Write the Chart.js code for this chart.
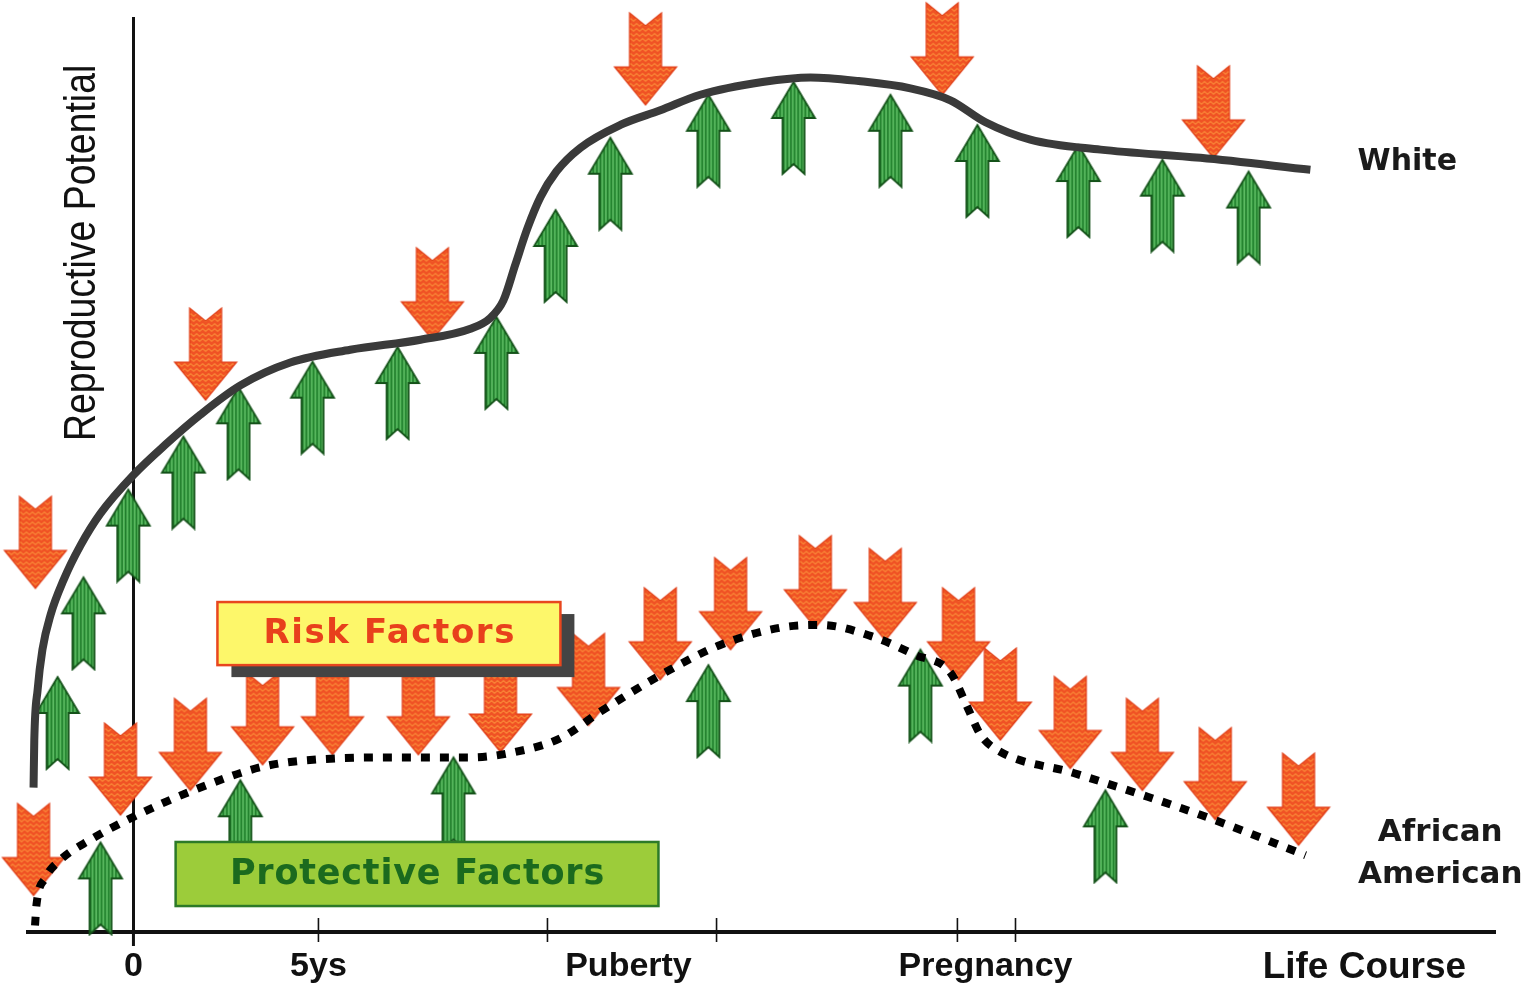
<!DOCTYPE html>
<html>
<head>
<meta charset="utf-8">
<title>Reproductive Potential over the Life Course</title>
<script src="https://cdn.jsdelivr.net/npm/chart.js@4.4.0/dist/chart.umd.min.js"></script>
<style>
  html, body { margin: 0; padding: 0; background: #fff; }
  #wrap { width: 1530px; height: 990px; }
</style>
</head>
<body>
<div id="wrap"><canvas id="chart" width="1530" height="990"></canvas></div>
<script>
// x in "years-ish" life course units, y in reproductive potential units (0..100)
const whiteX = [-2.70, -2.68, -2.59, -2.46, -2.24, -1.89, -1.43, -0.89, 0, 0.86, 1.81, 2.89, 4.24, 5.86, 7.76, 9.11, 9.65, 10.0, 10.32, 10.65, 11.0, 11.43, 12.08, 13.16, 14.24, 15.32, 17.0, 18.3, 19.6, 21.0, 22.08, 23.03, 24.24, 26.14, 28.84, 31.81];
const whiteY = [15.8, 21.0, 26.5, 30.9, 34.7, 38.5, 42.3, 45.8, 50.0, 53.3, 56.6, 59.8, 62.3, 63.7, 64.8, 66.0, 67.2, 69.1, 73.0, 77.0, 80.4, 83.2, 85.8, 88.3, 89.9, 91.6, 93.0, 93.5, 93.1, 92.3, 91.0, 88.6, 86.7, 85.6, 84.7, 83.4];

const aaX = [-2.66, -2.62, -2.38, -1.97, -1.16, 0, 1.62, 3.51, 5.05, 7.22, 9.11, 10.32, 11.54, 12.62, 14.24, 15.86, 17.49, 18.57, 19.92, 21.14, 22.08, 22.54, 22.89, 23.35, 25.41, 27.41, 29.19, 31.68];
const aaY = [0.7, 3.0, 5.9, 7.9, 10.1, 12.6, 15.5, 18.1, 18.9, 19.1, 19.1, 19.7, 21.2, 24.1, 28.1, 31.4, 33.3, 33.6, 32.4, 30.3, 28.4, 24.6, 21.6, 19.9, 17.4, 14.8, 12.3, 8.4];

// protective factors (green, pushing up) - tip of each arrow
const protX = [-2.05, -1.35, -0.14, 1.35, 2.84, 4.84, 7.14, 9.81, 11.41, 12.89, 15.54, 17.84, 20.46, 22.81, 25.54, 27.81, 30.14, -0.89, 2.89, 8.65, 15.54, 21.27, 26.27];
const protY = [27.9, 38.8, 48.4, 54.2, 59.6, 62.4, 64.0, 67.3, 79.0, 86.9, 91.6, 93.0, 91.6, 88.3, 86.1, 84.5, 83.2, 9.8, 16.6, 19.1, 29.2, 30.9, 15.5];

// risk factors (red, pushing down) - tip of each arrow
const riskX = [-2.65, 1.95, 8.08, 13.84, 21.86, 29.19, -2.70, -0.35, 1.54, 3.49, 5.38, 7.70, 9.92, 12.30, 14.24, 16.14, 18.43, 20.32, 22.30, 23.43, 25.32, 27.27, 29.24, 31.49];
const riskY = [37.6, 58.2, 64.8, 90.5, 91.6, 84.7, 4.0, 12.8, 15.5, 18.3, 19.4, 19.4, 19.7, 22.6, 27.6, 30.9, 33.3, 31.9, 27.6, 21.0, 17.9, 15.5, 12.3, 9.5];

const tickLabelValues = [0, 5, 13.38, 23.03, 33.27];
const tickLabels = ['0', '5ys', 'Puberty', 'Pregnancy', 'Life Course'];
const tickMarks = [0, 5, 11.19, 15.76, 22.27, 23.84];

const pts = (xs, ys) => xs.map((x, i) => ({ x, y: ys[i] }));

// arrow glyphs, tip sits at the canvas centre so the data point is the tip
function upArrow() {
    const L = 92, W = 48, c = document.createElement('canvas');
    c.width = W; c.height = L * 2 + 4;
    const g = c.getContext('2d');
    const t = L + 2, cx = W / 2, hw = 21.5, sw = 11, hh = 36, n = 10;
    const p = new Path2D();
    p.moveTo(cx, t); p.lineTo(cx + hw, t + hh); p.lineTo(cx + sw, t + hh); p.lineTo(cx + sw, t + L);
    p.lineTo(cx, t + L - n); p.lineTo(cx - sw, t + L); p.lineTo(cx - sw, t + hh); p.lineTo(cx - hw, t + hh);
    p.closePath();
    g.fillStyle = '#33a03f'; g.fill(p);
    g.save(); g.clip(p);
    for (let x = cx - hw + 1; x < cx + hw; x += 3.6) {
        g.strokeStyle = '#1b6f25'; g.lineWidth = 1;
        g.beginPath(); g.moveTo(x, t); g.lineTo(x, t + L); g.stroke();
        g.strokeStyle = '#86d486'; g.lineWidth = 0.8;
        g.beginPath(); g.moveTo(x + 1.6, t); g.lineTo(x + 1.6, t + L); g.stroke();
    }
    g.restore();
    g.strokeStyle = '#145219'; g.lineWidth = 1.8; g.stroke(p);
    return c;
}

function downArrow() {
    const L = 92, W = 66, c = document.createElement('canvas');
    c.width = W; c.height = L * 2 + 4;
    const g = c.getContext('2d');
    const t = L + 2, top = t - L, cx = W / 2, hw = 31, sw = 16, hh = 38, n = 13;
    const p = new Path2D();
    p.moveTo(cx, t); p.lineTo(cx - hw, t - hh); p.lineTo(cx - sw, t - hh); p.lineTo(cx - sw, top);
    p.lineTo(cx, top + n); p.lineTo(cx + sw, top); p.lineTo(cx + sw, t - hh); p.lineTo(cx + hw, t - hh);
    p.closePath();
    g.fillStyle = '#f05224'; g.fill(p);
    g.save(); g.clip(p);
    g.strokeStyle = '#ffa845'; g.lineWidth = 1;
    for (let y = top + 2; y < t; y += 5) {
        g.beginPath();
        for (let x = 0, k = 0; x <= W; x += 3, k++) g.lineTo(x, y + (k % 2 ? 1.4 : -1.4));
        g.stroke();
    }
    g.restore();
    g.strokeStyle = '#df3c16'; g.lineWidth = 1.2; g.stroke(p);
    return c;
}

function spacedText(ctx, text, cx, cy, spacing) {
    ctx.letterSpacing = spacing + 'px';
    ctx.fillText(text, cx + spacing / 2, cy);
    ctx.letterSpacing = '0px';
}

const decor = {
    id: 'decor',
    afterDatasetsDraw(chart) {
        const { ctx, scales: { x, y } } = chart;
        const X = v => x.getPixelForValue(v), Y = v => y.getPixelForValue(v);
        ctx.save();

        // tick marks across the life course axis
        const base = Y(0);
        tickMarks.forEach(v => {
            ctx.strokeStyle = '#111';
            ctx.lineWidth = v === 0 ? 3 : 1.6;
            ctx.beginPath();
            ctx.moveTo(X(v), v === 0 ? base : base - 14);
            ctx.lineTo(X(v), base + (v === 0 ? 14 : 10));
            ctx.stroke();
        });

        // Risk Factors box with shadow
        let l = X(2.27), r = X(11.54), t = Y(36.1), b = Y(29.2);
        ctx.fillStyle = '#444';
        ctx.fillRect(l + 14, t + 12, r - l, b - t);
        ctx.fillStyle = '#fdf76a';
        ctx.fillRect(l, t, r - l, b - t);
        ctx.strokeStyle = '#e8461e'; ctx.lineWidth = 2.5;
        ctx.strokeRect(l, t, r - l, b - t);
        ctx.fillStyle = '#e8401c';
        ctx.font = 'bold 34px "DejaVu Sans"';
        ctx.textAlign = 'center'; ctx.textBaseline = 'middle';
        spacedText(ctx, 'Risk Factors', (l + r) / 2, (t + b) / 2 + 1, 1.6);

        // Protective Factors box
        l = X(1.14); r = X(14.19); t = Y(9.85); b = Y(2.84);
        ctx.fillStyle = '#9ccc3a';
        ctx.fillRect(l, t, r - l, b - t);
        ctx.strokeStyle = '#2c7a28'; ctx.lineWidth = 2.5;
        ctx.strokeRect(l, t, r - l, b - t);
        ctx.fillStyle = '#1b6a1e';
        ctx.font = 'bold 35px "DejaVu Sans"';
        spacedText(ctx, 'Protective Factors', (l + r) / 2, (t + b) / 2 + 1, 0.8);

        // series labels
        ctx.fillStyle = '#1a1a1a';
        ctx.font = 'bold 30px "DejaVu Sans"';
        ctx.fillText('White', X(34.43), Y(84.2));
        ctx.font = 'bold 31px "DejaVu Sans"';
        ctx.fillText('African', X(35.32), Y(10.83));
        ctx.fillText('American', X(35.32), Y(6.24));

        // y axis title (condensed)
        ctx.translate(X(-1.38), Y(74.3));
        ctx.rotate(-Math.PI / 2);
        ctx.scale(0.85, 1);
        ctx.fillStyle = '#111';
        ctx.font = '44px "Liberation Sans"';
        ctx.fillText('Reproductive Potential', 0, 0);
        ctx.restore();
    }
};

Chart.defaults.font.family = "'Liberation Sans', Arial, sans-serif";
Chart.defaults.color = '#111';

new Chart(document.getElementById('chart'), {
    type: 'scatter',
    data: {
        datasets: [
            { label: 'White', data: pts(whiteX, whiteY), showLine: true, borderColor: '#3a3a3a', borderWidth: 8, cubicInterpolationMode: 'monotone', pointRadius: 0, order: 0 },
            { label: 'African American', data: pts(aaX, aaY), showLine: true, borderColor: '#000', borderWidth: 8, borderDash: [9, 10], cubicInterpolationMode: 'monotone', pointRadius: 0, order: 0 },
            { label: 'Protective Factors', data: pts(protX, protY), pointStyle: upArrow(), pointRadius: 10, clip: false, order: 2 },
            { label: 'Risk Factors', data: pts(riskX, riskY), pointStyle: downArrow(), pointRadius: 10, clip: false, order: 2 }
        ]
    },
    options: {
        responsive: false,
        animation: false,
        events: [],
        layout: { padding: { left: 28, right: 35, top: 18, bottom: 0 } },
        plugins: { legend: { display: false }, tooltip: { enabled: false } },
        scales: {
            x: {
                type: 'linear', min: -2.85, max: 36.8,
                grid: { display: false, drawTicks: false },
                border: { display: true, color: '#111', width: 4 },
                afterBuildTicks: s => { s.ticks = tickLabelValues.map(v => ({ value: v })); },
                afterFit: s => { s.height = 58; },
                ticks: {
                    autoSkip: false, maxRotation: 0, padding: 14, color: '#111',
                    callback: v => tickLabels[tickLabelValues.indexOf(v)],
                    font: c => (c.tick && c.tick.value > 30)
                        ? { size: 37, weight: 'bold' }
                        : { size: 34, weight: 'bold' }
                }
            },
            y: {
                type: 'linear', min: 0, max: 100,
                position: { x: 0 },
                grid: { display: false, drawTicks: false },
                border: { display: true, color: '#111', width: 3 },
                ticks: { display: false }
            }
        }
    },
    plugins: [decor]
});
</script>
</body>
</html>
